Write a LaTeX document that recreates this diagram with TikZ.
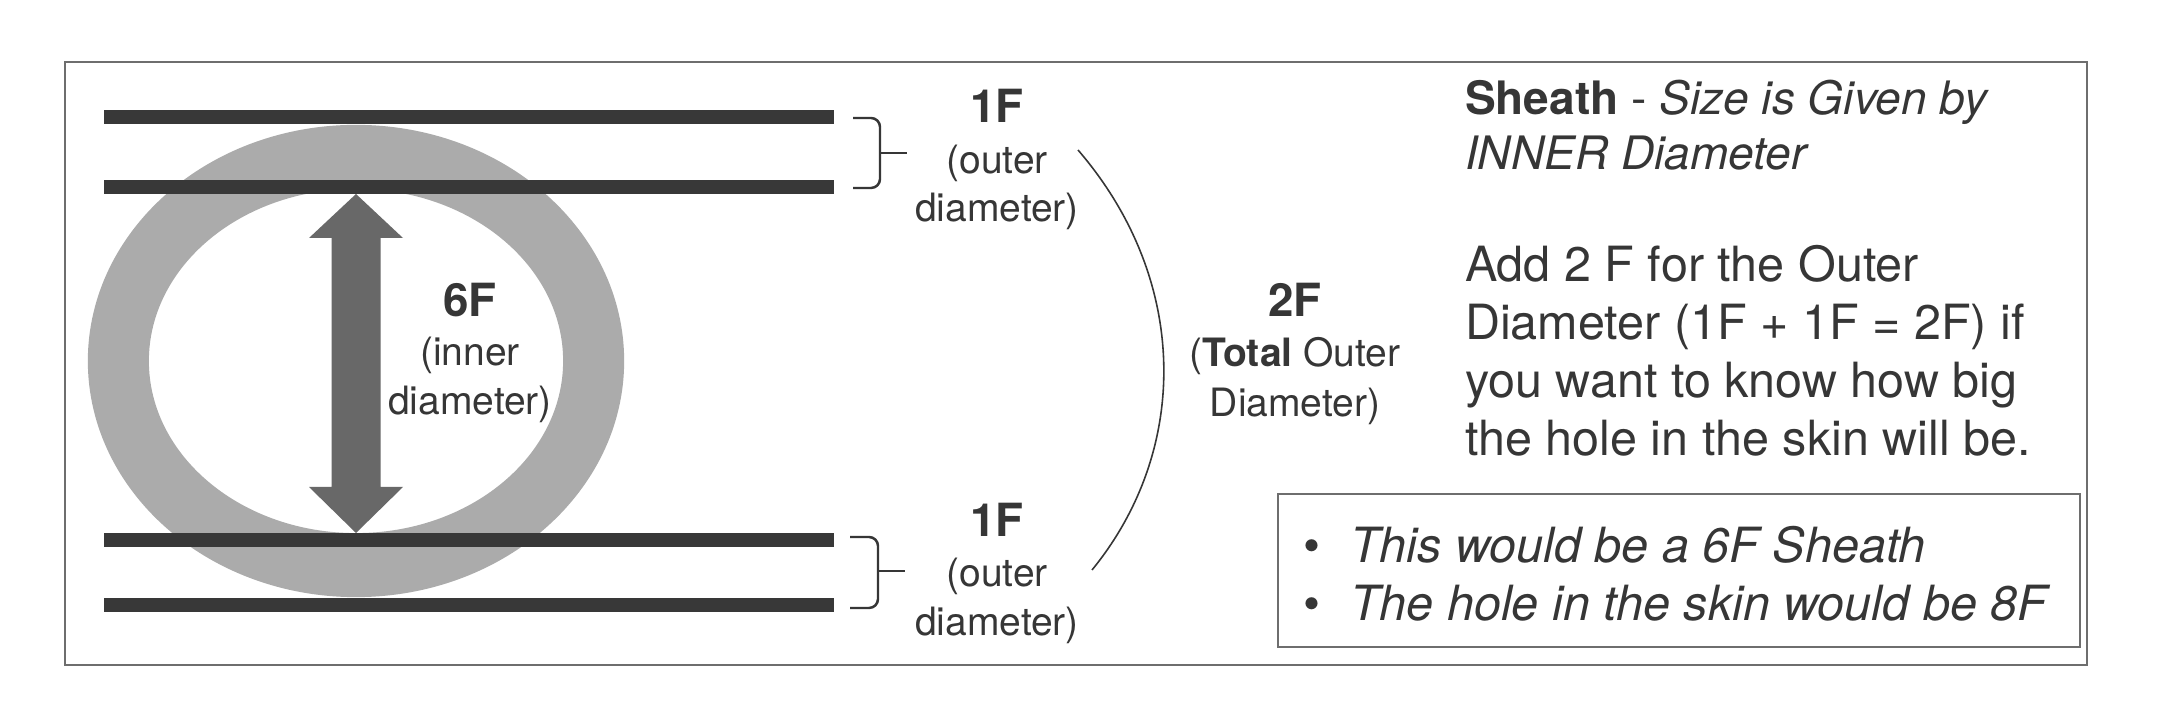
\documentclass[tikz,border=0pt]{standalone}
\usepackage{fontspec}
\setmainfont{TeX Gyre Heros}
\definecolor{txt}{HTML}{363636}
\definecolor{barc}{HTML}{383838}
\definecolor{ringc}{HTML}{ABABAB}
\definecolor{arrowc}{HTML}{686868}
\definecolor{framec}{HTML}{6E6E6E}
\tikzset{
  biglab/.style={font=\fontsize{13}{15}\selectfont\bfseries, anchor=base},
  smalllab/.style={font=\fontsize{11.1}{13}\selectfont, anchor=base},
  headtxt/.style={font=\fontsize{13.1}{15}\selectfont, anchor=base west},
  bodytxt/.style={font=\fontsize{13.8}{16}\selectfont, anchor=base west},
  bulletdot/.style={font=\fontsize{13.8}{16}\selectfont, anchor=base},
  sheathbar/.style={draw=barc, line width=0.14cm},
  bracepath/.style={draw=txt, line width=0.7pt, rounded corners=0.09cm},
  framebox/.style={draw=framec, line width=0.6pt},
}
\begin{document}
\begin{tikzpicture}[x=0.01cm,y=-0.01cm, every node/.style={inner sep=0pt, outer sep=0pt, text=txt}]
\useasboundingbox (0,0) rectangle (2172,704);
\fill[white] (0,0) rectangle (2172,704);
% outer frame
\draw[framebox] (65,62) rectangle (2087,665);
% ring
\fill[ringc, even odd rule] (356,361) ellipse [x radius=2.68cm, y radius=2.36cm]
  (356,361) ellipse [x radius=2.07cm, y radius=1.72cm];
% bars
\draw[sheathbar] (104,117) -- (834,117);
\draw[sheathbar] (104,187) -- (834,187);
\draw[sheathbar] (104,540) -- (834,540);
\draw[sheathbar] (104,605) -- (834,605);
% double arrow
\fill[arrowc] (356,194) -- (403,238) -- (380.5,238) -- (380.5,487) -- (403,487) -- (356,533)
  -- (309,487) -- (331.5,487) -- (331.5,238) -- (309,238) -- cycle;
% labels
\node[biglab] (sixF) at (470,317) {6F};
\node[smalllab] (sixFa) at (470,366) {(inner};
\node[smalllab] (sixFb) at (470,415) {diameter)};
\node[biglab] (oneFt) at (997,123) {1F};
\node[smalllab] (oneFta) at (997,174) {(outer};
\node[smalllab] (oneFtb) at (997,222) {diameter)};
\node[biglab] (oneFb) at (997,537) {1F};
\node[smalllab] (oneFba) at (997,587) {(outer};
\node[smalllab] (oneFbb) at (997,636) {diameter)};
\node[biglab] (twoF) at (1295,317) {2F};
\node[smalllab] (twoFa) at (1295,367) {(\textbf{Total} Outer};
\node[smalllab] (twoFb) at (1295,417) {Diameter)};
% braces
\coordinate (bt1) at (853,118);
\coordinate (bt2) at (853,188);
\coordinate (btt) at (907,153);
\draw[bracepath] (bt1) -- (880,118) -- (880,188) -- (bt2);
\draw[draw=txt, line width=0.7pt] (880,153) -- (btt);
\coordinate (bb1) at (850,537);
\coordinate (bb2) at (850,608);
\coordinate (bbt) at (905,571);
\draw[bracepath] (bb1) -- (878,537) -- (878,608) -- (bb2);
\draw[draw=txt, line width=0.7pt] (878,571) -- (bbt);
% arc
\coordinate (arcA) at (1078,150);
\coordinate (arcB) at (1092,570);
\draw[draw=txt, line width=0.45pt] (arcA) .. controls (1190,280) and (1190,450) .. (arcB);
% right text
\node[headtxt] (sh1) at (1465,115) {\textbf{Sheath} - \textit{Size is Given by}};
\node[headtxt] (sh2) at (1465,170) {\textit{INNER Diameter}};
\node[bodytxt] (ad1) at (1465,282) {Add 2 F for the Outer};
\node[bodytxt] (ad2) at (1465,340) {Diameter (1F + 1F = 2F) if};
\node[bodytxt] (ad3) at (1465,398) {you want to know how big};
\node[bodytxt] (ad4) at (1465,456) {the hole in the skin will be.};
% bullet box
\draw[framebox] (1278,494) rectangle (2080,647);
\node[bulletdot] (d1) at (1312,563) {\textbullet};
\node[bodytxt] (bl1) at (1350,563) {\textit{This would be a 6F Sheath}};
\node[bulletdot] (d2) at (1312,621) {\textbullet};
\node[bodytxt] (bl2) at (1350,621) {\textit{The hole in the skin would be 8F}};
\end{tikzpicture}
\end{document}
